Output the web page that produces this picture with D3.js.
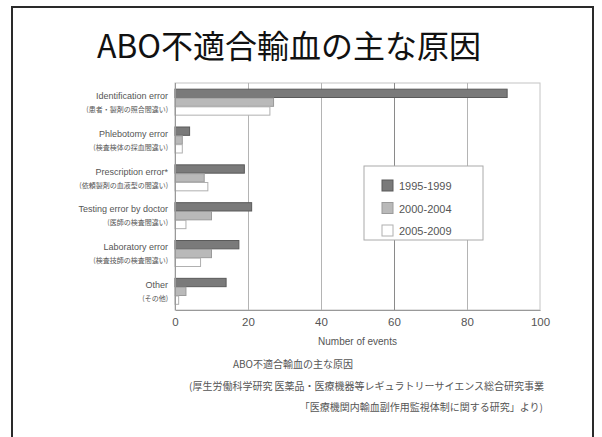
<!DOCTYPE html>
<html>
<head>
<meta charset="utf-8">
<script src="https://cdn.jsdelivr.net/npm/d3@7"></script>
<style>
  html, body { margin: 0; padding: 0; background: #fff; }
  svg { display: block; }
</style>
</head>
<body>
<svg id="chart" width="602" height="437"></svg>
<script>
// Causes of ABO-incompatible transfusion, events per period
const categories = [
  ["Identification error", "(患者・製剤の照合間違い)"],
  ["Phlebotomy error", "(検査検体の採血間違い)"],
  ["Prescription error*", "(依頼製剤の血液型の間違い)"],
  ["Testing error by doctor", "(医師の検査間違い)"],
  ["Laboratory error", "(検査技師の検査間違い)"],
  ["Other", "(その他)"]
];
const periods = ["1995-1999", "2000-2004", "2005-2009"];
const events1995 = [91, 4, 19, 21, 17.5, 14];
const events2000 = [27, 2, 8, 10, 10, 3];
const events2005 = [26, 2, 9, 3, 7, 1];
const xTicks = [0, 20, 40, 60, 80, 100];

const seriesValues = [events1995, events2000, events2005];
const fills = ["#7a7a7a", "#b9b9b9", "#ffffff"];
const strokes = ["#5a5a5a", "#9a9a9a", "#b0b0b0"];

const svg = d3.select("#chart");
const jp = "'Noto Sans CJK JP', 'Noto Sans', sans-serif";
const en = "'Liberation Sans', Arial, sans-serif";

// slide frame
svg.append("rect")
  .attr("x", 12).attr("y", 7).attr("width", 581).attr("height", 450)
  .attr("fill", "none").attr("stroke", "#2a2a2a").attr("stroke-width", 2);

svg.append("text")
  .attr("x", 289).attr("y", 58)
  .attr("text-anchor", "middle")
  .attr("font-family", jp).attr("font-size", 32).attr("fill", "#111")
  .text("ABO不適合輸血の主な原因");

const plot = { left: 175, right: 540, top: 83, bottom: 310 };

const x = d3.scaleLinear().domain([0, 100]).range([plot.left, plot.right]);
const y = d3.scaleBand()
  .domain(d3.range(categories.length))
  .range([plot.top, plot.bottom])
  .paddingInner(0.3).paddingOuter(0.15);
const ySub = d3.scaleBand().domain(d3.range(periods.length)).range([0, y.bandwidth()]);

const g = svg.append("g");

// plot frame and grid
g.append("rect")
  .attr("x", plot.left).attr("y", plot.top)
  .attr("width", plot.right - plot.left).attr("height", plot.bottom - plot.top)
  .attr("fill", "none").attr("stroke", "#c4c4c4").attr("stroke-width", 1);

g.selectAll(".grid").data(xTicks.slice(1, -1)).join("line")
  .attr("class", "grid")
  .attr("x1", d => x(d) + 0.5).attr("x2", d => x(d) + 0.5)
  .attr("y1", plot.top).attr("y2", plot.bottom)
  .attr("stroke", d => d === 60 ? "#8a8a8a" : "#b4b4b4").attr("stroke-width", 1);

// bars
categories.forEach((c, i) => {
  const grp = g.append("g").attr("transform", `translate(0,${y(i)})`);
  seriesValues.forEach((vals, s) => {
    grp.append("rect")
      .attr("x", x(0))
      .attr("y", ySub(s) + 0.5)
      .attr("width", x(vals[i]) - x(0))
      .attr("height", ySub.bandwidth() - 0.5)
      .attr("fill", fills[s])
      .attr("stroke", strokes[s]).attr("stroke-width", 1);
  });
});

// axes lines
g.append("line")
  .attr("x1", plot.left + 0.5).attr("x2", plot.left + 0.5)
  .attr("y1", plot.top).attr("y2", plot.bottom)
  .attr("stroke", "#999");
const xAxis = d3.axisBottom(x).tickValues(xTicks).tickSize(0).tickPadding(8);
const ax = g.append("g").attr("transform", `translate(0,${plot.bottom})`).call(xAxis);
ax.select(".domain").attr("stroke", "#999");
ax.selectAll("text")
  .attr("font-family", en).attr("font-size", 11.5).attr("fill", "#555");

svg.append("text")
  .attr("x", (plot.left + plot.right) / 2).attr("y", 345)
  .attr("text-anchor", "middle")
  .attr("font-family", en).attr("font-size", 10).attr("fill", "#555")
  .text("Number of events");

// category labels
const labels = svg.append("g");
categories.forEach((c, i) => {
  const cy = y(i) + y.bandwidth() / 2;
  labels.append("text")
    .attr("x", 168).attr("y", cy - 3)
    .attr("text-anchor", "end")
    .attr("font-family", en).attr("font-size", 9).attr("fill", "#555")
    .text(c[0]);
  labels.append("text")
    .attr("x", 168).attr("y", cy + 10)
    .attr("text-anchor", "end")
    .attr("font-family", jp).attr("font-size", 7).attr("fill", "#555")
    .text(c[1]);
});

// legend
const lg = svg.append("g").attr("transform", "translate(364,166)");
lg.append("rect")
  .attr("width", 119).attr("height", 74)
  .attr("fill", "#fff").attr("stroke", "#aaa");
periods.forEach((p, s) => {
  const row = lg.append("g").attr("transform", `translate(18,${14 + s * 22.5})`);
  row.append("rect")
    .attr("width", 11).attr("height", 11)
    .attr("fill", fills[s]).attr("stroke", strokes[s]);
  row.append("text")
    .attr("x", 17).attr("y", 10)
    .attr("font-family", en).attr("font-size", 11).attr("fill", "#555")
    .text(p);
});

// source notes
svg.append("text")
  .attr("x", 293).attr("y", 368)
  .attr("text-anchor", "middle")
  .attr("font-family", jp).attr("font-size", 10).attr("fill", "#555")
  .text("ABO不適合輸血の主な原因");
svg.append("text")
  .attr("x", 189).attr("y", 390)
  .attr("font-family", jp).attr("font-size", 10).attr("fill", "#555")
  .text("(厚生労働科学研究 医薬品・医療機器等レギュラトリーサイエンス総合研究事業");
svg.append("text")
  .attr("x", 543).attr("y", 411)
  .attr("text-anchor", "end")
  .attr("font-family", jp).attr("font-size", 10).attr("fill", "#555")
  .text("「医療機関内輸血副作用監視体制に関する研究」より)");
</script>
</body>
</html>
